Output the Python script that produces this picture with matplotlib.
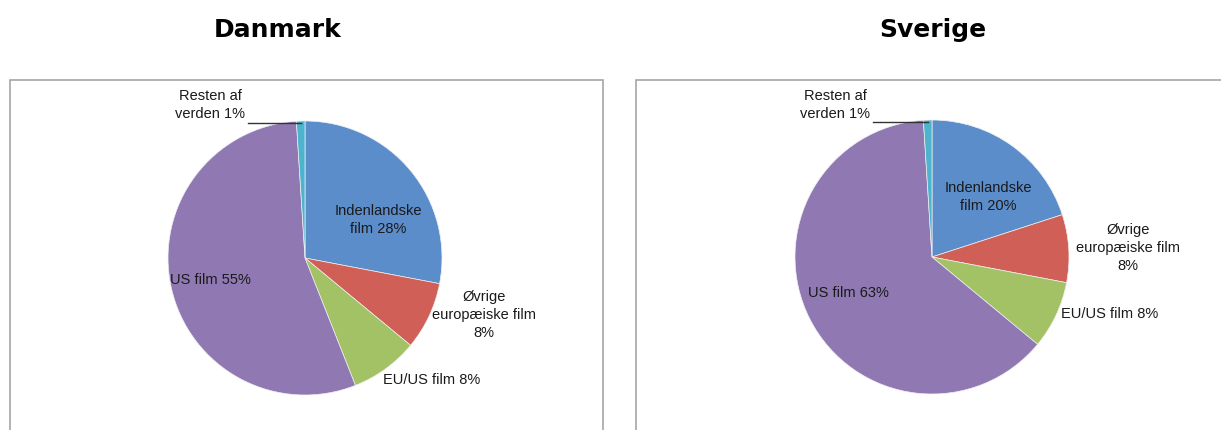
import numpy as np
import matplotlib.pyplot as plt
from matplotlib.patches import Rectangle

# Data
categories = ['Indenlandske film', 'Øvrige europæiske film', 'EU/US film', 'US film', 'Resten af verden']
danmark = [28, 8, 8, 55, 1]
sverige = [20, 8, 8, 63, 1]
colors = ['#5b8dcb', '#cf5f57', '#a3c266', '#9079b3', '#4cb4cd']

# label texts per slice
labels_dk = ['Indenlandske\nfilm 28%', 'Øvrige\neuropæiske film\n8%', 'EU/US film 8%', 'US film 55%', 'Resten af\nverden 1%']
labels_se = ['Indenlandske\nfilm 20%', 'Øvrige\neuropæiske film\n8%', 'EU/US film 8%', 'US film 63%', 'Resten af\nverden 1%']

W, H = 1221, 430
fig = plt.figure(figsize=(W / 100, H / 100), dpi=100)
ax = fig.add_axes([0, 0, 1, 1])
ax.set_xlim(0, W)
ax.set_ylim(0, H)
ax.set_aspect('equal')
ax.axis('off')

R = 137
font = 'Liberation Sans'

# label positions (offset from pie centre, in pixels; y downwards as on screen)
pos_dk = [(73, -38), (179, 57), (127, 122), (-95, 22), (-95, -153)]
pos_se = [(56, -60), (196, -9), (178, 57), (-84, 36), (-97, -152)]


def draw_panel(values, labels, pos, cx, cy, frame_x0, frame_x1, title, title_x):
    ax.add_patch(Rectangle((frame_x0, -5), frame_x1 - frame_x0, H - 80 + 5,
                           fill=False, edgecolor='#a6a6a6', linewidth=1.2))
    ax.text(title_x, H - 30, title, ha='center', va='center',
            fontsize=18, fontweight='bold', family='DejaVu Sans')
    wedges, _ = ax.pie(values, colors=colors, startangle=90, counterclock=False,
                       center=(cx, H - cy), radius=R,
                       wedgeprops=dict(linewidth=0.5, edgecolor='#f0f0f0'))
    for lab, (dx, dy) in zip(labels, pos):
        ax.text(cx + dx, H - cy - dy, lab, ha='center', va='center',
                fontsize=10.5, family=font, linespacing=1.35, color='#1a1a1a')
    # leader line for the smallest slice
    w = wedges[-1]
    mid = np.deg2rad((w.theta1 + w.theta2) / 2)
    ex = cx + R * np.cos(mid)
    ey = H - cy + R * np.sin(mid)
    lx = cx + pos[-1][0] + 38
    ax.plot([lx, ex], [ey - 2, ey - 2], color='#333333', linewidth=1)


draw_panel(danmark, labels_dk, pos_dk, 305, 258, 10, 603, 'Danmark', 278)
draw_panel(sverige, labels_se, pos_se, 932, 257, 636, 1226, 'Sverige', 933)

ax.set_xlim(0, W)
ax.set_ylim(0, H)
fig.savefig('out.png', dpi=100)
